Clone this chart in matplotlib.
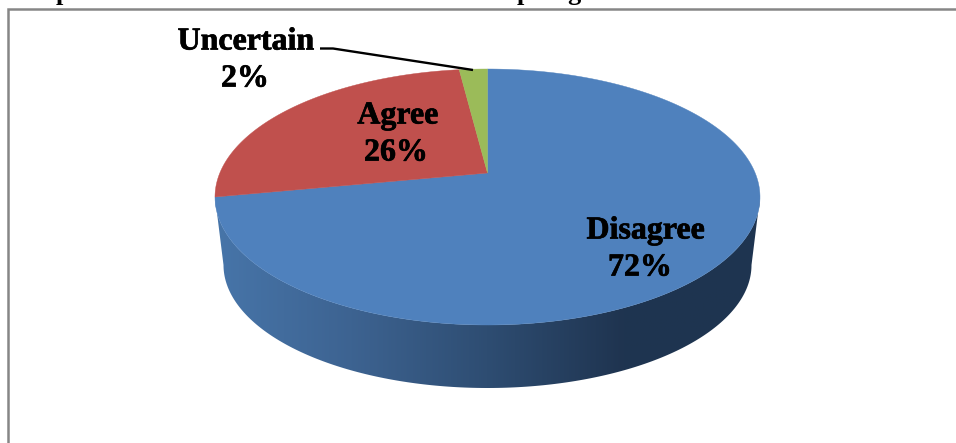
import matplotlib
matplotlib.use("Agg")
import matplotlib.pyplot as plt
import matplotlib.patheffects as pe
import numpy as np
from matplotlib.colors import LinearSegmentedColormap
from matplotlib.patches import Polygon

categories = ["Disagree", "Agree", "Uncertain"]
values = [72, 26, 2]
colors = ["#4F81BD", "#C0504D", "#9BBB59"]

# axes are in image pixels, y down
label_xy = {"Disagree": [(646, 231), (640, 268)],
            "Agree": [(398, 116), (396, 153)],
            "Uncertain": [(246, 42), (245, 79)]}

CX, CY = 487.5, 197.0
A, B = 272.5, 128.0
BOTTOM_A, BOTTOM_B, BOTTOM_Y = 264.0, 123.0, 265.0
TILT = 0.1875  # moves the pie centre up from the ellipse centre


def project(theta):
    # angle clockwise from 12 o'clock on the round pie -> pixel on the tilted top
    u, v = np.sin(theta), np.cos(theta)
    w = 1 + TILT * v
    x = np.sqrt(1 - TILT ** 2) * u / w
    y = (v + TILT) / w
    return CX + A * x, CY - B * y


def drawSide(ax):
    t = np.linspace(0, np.pi, 200)
    top_x, top_y = CX - A * np.cos(t), CY + B * np.sin(t)
    low_x, low_y = CX + BOTTOM_A * np.cos(t), BOTTOM_Y + BOTTOM_B * np.sin(t)
    pts = np.column_stack([np.r_[top_x, low_x], np.r_[top_y, low_y]])
    cmap = LinearSegmentedColormap.from_list(
        "side", ["#4775A9", "#3D6391", "#2E4D72", "#1F3450", "#1E3550"])
    img = ax.imshow(np.linspace(0, 1, 256).reshape(1, -1), cmap=cmap, aspect="auto",
                    extent=(215, 760, 390, 190), zorder=1)
    clip = Polygon(pts, closed=True, transform=ax.transData, fc="none", ec="none")
    ax.add_patch(clip)
    img.set_clip_path(clip)


def drawTop(ax):
    edges = np.r_[0, np.cumsum(values)] / sum(values) * 2 * np.pi
    for i in range(len(values)):
        t = np.linspace(edges[i], edges[i + 1], 200)
        x, y = project(t)
        ax.fill(np.r_[CX, x], np.r_[CY - B * TILT, y], color=colors[i], lw=0.3, zorder=2)


def drawLabels(ax):
    font = dict(family="Liberation Serif", weight="bold", fontsize=23, color="black",
                ha="center", va="center", zorder=4,
                path_effects=[pe.withStroke(linewidth=0.5, foreground="black")])
    for name, val in zip(categories, values):
        (x1, y1), (x2, y2) = label_xy[name]
        ax.text(x1, y1, name, **font)
        ax.text(x2, y2, f"{val}%", **font)
    # leader for the small slice
    ax.plot([320, 333, 473], [48.5, 48.5, 70], color="black", lw=1.7, zorder=3,
            solid_capstyle="butt")


def main():
    fig = plt.figure(figsize=(9.56, 4.43), dpi=100)
    ax = fig.add_axes([0, 0, 1, 1])
    drawSide(ax)
    drawTop(ax)
    drawLabels(ax)

    # chart border, right and bottom run off the crop
    ax.plot([8, 8, 956], [443, 9, 9], color="#868686", lw=1.8, zorder=3,
            solid_joinstyle="miter")

    # only the descenders of the heading survive the crop at the top
    head = dict(family="Liberation Serif", weight="bold", fontsize=19, color="black",
                ha="left", va="baseline")
    ax.text(56, 0, "p", **head)
    ax.text(517, 0, "p", **head)
    ax.text(567, 0, "g", **head)

    ax.set_xlim(0, 956)
    ax.set_ylim(443, 0)
    ax.axis("off")
    fig.savefig("out.png", dpi=100)


if __name__ == '__main__':
    main()
